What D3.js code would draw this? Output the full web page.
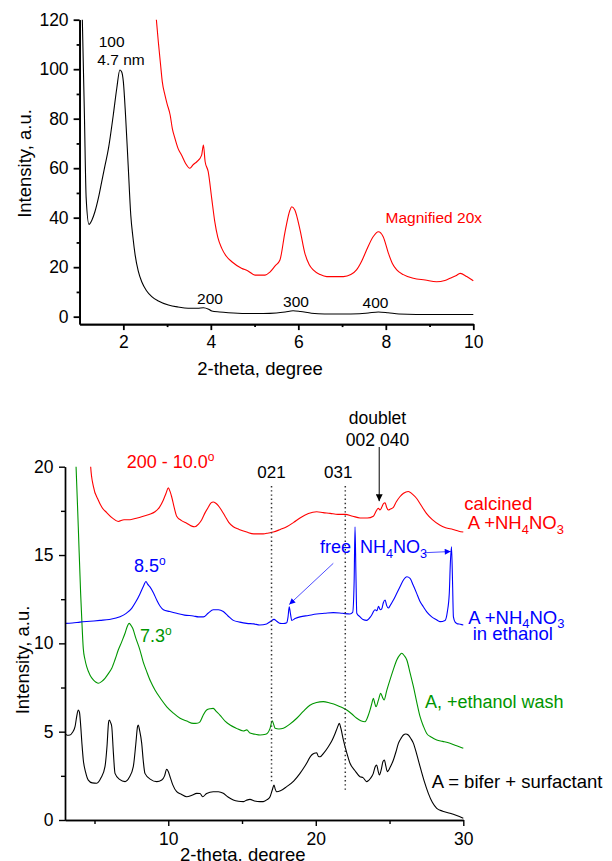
<!DOCTYPE html>
<html>
<head>
<meta charset="utf-8">
<script src="https://cdn.jsdelivr.net/npm/d3@7/dist/d3.min.js"></script>
<style>
  html, body { margin: 0; padding: 0; background: #fff; }
  svg { display: block; font-family: "Liberation Sans", Arial, sans-serif; }
</style>
</head>
<body>
<svg id="chart" width="612" height="861"></svg>
<script>
// ---------- Upper panel: low-angle pattern (2-theta 1-10 deg) ----------
const lowTheta = [1.06,1.11,1.15,1.215,1.28,1.35,1.43,1.505,1.58,1.66,1.77,1.85,1.92,1.96,2.0,2.05,2.11,2.17,2.22,2.27,2.34,2.42,2.53,2.65,2.8,3.03,3.25,3.48,3.7,3.83,3.95,4.02,4.2,4.4,4.8,5.2,5.5,5.7,5.88,6.05,6.3,6.6,7.0,7.4,7.6,7.83,8.05,8.3,8.7,9.2,9.6,10];
const lowIntensity = [122,81.5,48,37.3,39,42.4,48,54.5,61,68,81.5,92.3,99.7,99,95,81.5,61.3,41,32,24.9,18.5,14.1,10.5,8.1,6.3,4.7,3.9,3.4,3.4,3.6,3.0,2.3,1.9,1.6,1.3,1.3,1.5,1.9,2.4,2.1,1.4,1.1,1.1,1.2,1.5,1.9,1.6,1.1,0.9,0.9,0.9,0.9];

// same pattern, magnified 20x
const magTheta = [2.74,2.8,2.85,2.89,2.95,3.0,3.07,3.12,3.18,3.25,3.33,3.42,3.52,3.6,3.68,3.79,3.83,3.87,3.94,4.02,4.09,4.16,4.25,4.35,4.48,4.7,4.85,5.01,5.24,5.35,5.47,5.58,5.69,5.81,5.85,5.92,6.04,6.15,6.25,6.34,6.5,6.65,7.03,7.2,7.33,7.45,7.56,7.71,7.83,7.94,8.06,8.15,8.25,8.4,8.63,8.9,9.16,9.35,9.47,9.6,9.7,9.85,10.0];
const magIntensity = [123,111,102,95,89.6,86,81.5,76,72,68,65.3,62,60,61.5,62.6,65.3,69.4,62.6,58.6,47.8,38.4,32,27.6,24.5,22.2,19.6,18.5,16.8,16.8,18.0,20.5,22.9,33.7,43.1,44.4,43.1,35,25.6,21,18.9,17,16.2,16.2,17,18.9,22.5,26.9,32.3,34.3,32.3,25.6,21.5,18.9,17,15.5,14.8,14.1,14.6,15.5,16.5,17.5,16.2,14.5];

const lowXTicks = [2, 4, 6, 8, 10];
const lowXMinor = [3, 5, 7, 9];
const lowYTicks = [0, 20, 40, 60, 80, 100, 120];
const lowYMinor = [10, 30, 50, 70, 90, 110];

// ---------- Lower panel: wide-angle patterns (2-theta 3-30 deg) ----------
const calcTheta = [4.7,4.74,4.92,5.26,5.5,5.83,6.2,6.61,7.0,7.41,7.9,8.31,8.7,9.1,9.4,9.66,9.85,10.0,10.12,10.23,10.4,10.57,10.9,11.25,11.55,11.81,12.05,12.27,12.5,12.71,12.9,13.05,13.2,13.39,13.6,13.85,14.1,14.41,14.8,15.32,15.8,16.44,16.8,17.12,17.6,18.03,18.5,18.93,19.5,20.06,20.5,20.97,21.5,21.98,22.5,23.0,23.5,23.9,24.1,24.24,24.35,24.47,24.58,24.7,24.8,24.92,25.05,25.26,25.45,25.7,25.95,26.27,26.55,26.84,27.15,27.5,27.9,28.4,28.8,29.3,29.7,30.0];
const calcIntensity = [20.6,20.0,18.9,18.1,17.7,17.4,17.1,16.9,17.0,17.0,17.1,17.2,17.3,17.45,17.7,18.1,18.5,18.8,18.6,18.3,17.7,17.2,16.95,16.8,16.65,16.6,16.75,17.0,17.4,17.7,17.95,18.0,17.95,17.8,17.55,17.2,16.85,16.6,16.45,16.3,16.2,16.2,16.25,16.3,16.45,16.6,16.85,17.1,17.35,17.45,17.4,17.36,17.3,17.3,17.2,17.1,17.1,17.2,17.5,17.65,17.55,17.7,17.9,17.96,17.7,17.55,17.6,17.7,18.0,18.3,18.5,18.6,18.45,18.2,17.8,17.36,17.0,16.7,16.55,16.45,16.35,16.3];

const ethTheta = [3.0,3.5,4.02,4.7,5.37,6.0,6.73,7.15,7.52,7.8,8.08,8.3,8.49,8.6,8.76,9.0,9.22,9.45,9.67,10.1,10.57,11.1,11.7,12.05,12.38,12.7,13.05,13.4,13.73,14.05,14.41,14.85,15.32,15.8,16.2,16.67,16.95,17.17,17.35,17.58,17.8,18.03,18.12,18.2,18.28,18.37,18.6,18.93,19.5,20.06,20.6,21.19,21.8,22.32,22.5,22.6,22.66,22.72,22.78,23.0,23.2,23.45,23.75,24.02,24.15,24.25,24.37,24.47,24.58,24.7,24.8,24.92,25.05,25.26,25.5,25.71,25.95,26.17,26.39,26.6,26.84,27.05,27.29,27.55,27.86,28.15,28.42,28.76,28.92,29.05,29.12,29.2,29.27,29.33,29.45,29.55,29.8,30.0];
const ethIntensity = [11.13,11.15,11.2,11.25,11.3,11.35,11.5,11.7,11.98,12.35,12.8,13.2,13.5,13.35,13.2,12.85,12.45,12.1,11.9,11.8,11.7,11.6,11.55,11.5,11.5,11.7,11.9,11.9,11.8,11.55,11.3,11.2,11.13,11.1,11.04,11.1,11.25,11.36,11.25,11.13,11.12,11.17,11.5,12.07,11.7,11.3,11.4,11.5,11.58,11.66,11.7,11.74,11.7,11.66,11.75,13.5,16.6,14.0,11.7,11.5,11.35,11.3,11.55,11.9,11.85,12.1,11.9,11.95,12.3,12.45,12.15,12.0,12.15,12.45,12.85,13.2,13.6,13.77,13.68,13.3,12.83,12.4,12.07,11.75,11.5,11.35,11.23,11.3,11.8,12.83,14.5,15.47,13.5,11.5,11.2,11.13,11.08,11.04];

const washTheta = [3.72,3.75,3.9,4.06,4.13,4.24,4.35,4.47,4.7,4.92,5.1,5.26,5.5,5.71,5.95,6.17,6.4,6.61,6.85,7.07,7.22,7.34,7.45,7.59,7.8,8.08,8.3,8.54,8.8,9.1,9.5,9.9,10.35,10.8,11.25,11.7,11.95,12.15,12.35,12.6,12.85,13.05,13.25,13.5,13.85,14.19,14.6,15.09,15.32,15.54,15.9,16.22,16.6,16.9,17.05,17.15,17.24,17.5,17.8,18.2,18.71,19.15,19.6,20.05,20.51,20.95,21.42,21.75,22.1,22.45,22.78,23.05,23.34,23.55,23.68,23.8,23.9,24.0,24.08,24.25,24.4,24.52,24.63,24.8,25.03,25.25,25.49,25.7,25.83,26.0,26.17,26.4,26.62,26.85,27.07,27.3,27.52,27.85,28.2,28.6,29.1,29.55,30.0];
const washIntensity = [20.6,20,16.6,12.83,11.5,9.7,9.1,8.68,8.2,7.93,7.8,7.74,7.85,8.02,8.3,8.59,9.1,9.62,10.1,10.57,10.95,11.13,11.05,10.85,10.3,9.62,8.95,8.4,7.85,7.36,6.85,6.41,6.05,5.76,5.6,5.47,5.48,5.56,5.9,6.23,6.3,6.32,6.15,5.94,5.6,5.38,5.2,5.04,5.1,4.92,4.85,4.81,4.85,5.19,5.62,5.4,5.19,5.15,5.19,5.4,5.76,6.15,6.5,6.65,6.7,6.62,6.5,6.38,6.23,6.0,5.76,5.62,5.56,5.9,6.23,6.6,6.89,6.6,6.41,6.8,7.17,6.95,6.79,7.3,7.93,8.5,9.06,9.35,9.44,9.3,9.06,8.3,7.55,6.65,5.85,5.3,4.9,4.68,4.53,4.45,4.34,4.2,4.06];

const asTheta = [3.0,3.15,3.34,3.5,3.68,3.8,3.9,3.98,4.05,4.15,4.24,4.4,4.58,4.85,5.15,5.45,5.71,5.85,5.95,6.0,6.1,6.17,6.28,6.39,6.7,7.07,7.35,7.63,7.8,7.92,7.97,8.05,8.2,8.3,8.42,8.8,9.22,9.56,9.75,9.89,10.0,10.12,10.3,10.57,10.9,11.25,11.6,11.93,12.15,12.33,12.6,13.05,13.4,13.73,14.05,14.41,14.75,15.09,15.3,15.54,15.85,16.22,16.44,16.7,16.9,17.05,17.17,17.25,17.35,17.6,18.03,18.5,18.93,19.3,19.72,19.9,20.06,20.18,20.29,20.55,20.85,21.1,21.31,21.45,21.6,21.7,21.87,22.1,22.32,22.65,23.0,23.2,23.45,23.7,23.9,24.02,24.13,24.22,24.31,24.45,24.55,24.65,24.75,24.85,25.05,25.26,25.45,25.6,25.8,25.94,26.1,26.27,26.45,26.62,26.85,27.07,27.35,27.63,27.9,28.2,28.6,29.1,29.55,30.0];
const asIntensity = [4.9,4.8,4.81,4.95,5.28,5.9,6.23,6.1,5.5,4.3,3.4,2.7,2.26,2.1,2.08,2.4,3.02,4.2,5.5,5.66,5.5,5.28,3.8,2.64,2.3,2.17,2.4,3.02,4.3,5.3,5.38,5.1,4.34,3.4,2.64,2.3,2.17,2.26,2.5,2.87,2.75,2.45,2.0,1.6,1.45,1.32,1.4,1.51,1.5,1.32,1.5,1.6,1.6,1.51,1.3,1.13,1.06,1.04,1.12,1.17,1.08,1.04,1.04,1.15,1.32,1.7,1.98,1.75,1.6,1.65,1.89,2.2,2.64,3.1,3.68,3.78,3.81,3.6,3.58,3.8,4.15,4.5,4.9,5.2,5.47,5.2,4.53,3.8,3.21,2.8,2.45,2.4,2.17,2.35,2.64,3.0,3.11,2.8,2.55,2.9,3.3,3.4,3.05,2.74,3.0,3.4,3.9,4.34,4.65,4.81,4.87,4.81,4.6,4.34,3.7,3.02,2.2,1.51,1.0,0.66,0.5,0.38,0.25,0.1];

const wideXTicks = [10, 20, 30];
const wideXMinor = [5, 15, 25];
const wideYTicks = [0, 5, 10, 15, 20];
const wideYMinor = [2.5, 7.5, 12.5, 17.5];

// reflection markers (dotted guides) and the doublet arrow position
const guideTheta = [17.0, 22.0];
const guideLabels = ["021", "031"];
const guideEndIntensity = [2.2, 1.7];
const doubletTheta = 24.3;

const RED = "#ff0000", BLUE = "#0000ff", GREEN = "#009600", BLACK = "#000000";
const FONT = "'Liberation Sans', Arial, sans-serif";

const svg = d3.select("#chart");
svg.append("rect").attr("width", 612).attr("height", 861).attr("fill", "#fff");

const defs = svg.append("defs");
function arrowMarker(id, color, w, h) {
  defs.append("marker")
    .attr("id", id).attr("viewBox", "0 0 10 10")
    .attr("refX", 10).attr("refY", 5)
    .attr("markerUnits", "userSpaceOnUse")
    .attr("markerWidth", w).attr("markerHeight", h)
    .attr("orient", "auto")
    .append("path").attr("d", "M0,0 L10,5 L0,10 Z").attr("fill", color);
}
arrowMarker("arrBlack", BLACK, 9, 7);
arrowMarker("arrBlue", BLUE, 8, 6);

function zip(xs, ys) { return xs.map((x, i) => [x, ys[i]]); }

function styleAxis(g, size, width) {
  g.attr("font-family", FONT).attr("font-size", size);
  g.selectAll(".domain").attr("stroke", "#000").attr("stroke-width", width);
  g.selectAll(".tick line").attr("stroke", "#000").attr("stroke-width", width);
  g.selectAll(".tick text").attr("fill", "#000");
}

// ================= Upper panel =================
const xTop = d3.scaleLinear().domain([1, 10]).range([79.6, 473.3]);
const yTop = d3.scaleLinear().domain([-3, 120]).range([324.1, 19.7]);

const upper = svg.append("g");
upper.append("clipPath").attr("id", "clipTop")
  .append("rect").attr("x", xTop(1)).attr("y", yTop(120))
  .attr("width", xTop(10) - xTop(1) + 2).attr("height", yTop(-3) - yTop(120));

const lineTop = d3.line().x(d => xTop(d[0])).y(d => yTop(d[1])).curve(d3.curveMonotoneX);

upper.append("path").datum(zip(magTheta, magIntensity))
  .attr("d", lineTop).attr("fill", "none").attr("stroke", RED).attr("stroke-width", 1.1)
  .attr("clip-path", "url(#clipTop)");
upper.append("path").datum(zip(lowTheta, lowIntensity))
  .attr("d", lineTop).attr("fill", "none").attr("stroke", BLACK).attr("stroke-width", 1.1)
  .attr("clip-path", "url(#clipTop)");

const topAxisW = 1.8;
upper.append("g").attr("transform", `translate(0,${yTop(-3)})`)
  .call(d3.axisBottom(xTop).tickValues(lowXMinor).tickSize(3).tickSizeOuter(0).tickFormat(""))
  .call(g => styleAxis(g, 17.5, topAxisW));
upper.append("g").attr("transform", `translate(0,${yTop(-3)})`)
  .call(d3.axisBottom(xTop).tickValues(lowXTicks).tickSize(6).tickPadding(5).tickSizeOuter(0))
  .call(g => styleAxis(g, 17.5, topAxisW));
upper.append("g").attr("transform", `translate(${xTop(1)},0)`)
  .call(d3.axisLeft(yTop).tickValues(lowYMinor).tickSize(3).tickSizeOuter(0).tickFormat(""))
  .call(g => styleAxis(g, 17.5, topAxisW));
upper.append("g").attr("transform", `translate(${xTop(1)},0)`)
  .call(d3.axisLeft(yTop).tickValues(lowYTicks).tickSize(6).tickPadding(5).tickSizeOuter(0))
  .call(g => styleAxis(g, 17.5, topAxisW));

upper.append("text").attr("x", 260).attr("y", 375).attr("text-anchor", "middle")
  .attr("font-size", 18.5).text("2-theta, degree");
upper.append("text").attr("transform", "translate(31,163.5) rotate(-90)").attr("text-anchor", "middle")
  .attr("font-size", 18.5).text("Intensity, a.u.");

const topNotes = [
  { t: "100", x: 111.7, y: 46.5 },
  { t: "4.7 nm", x: 121, y: 65 },
  { t: "200", x: 210, y: 304 },
  { t: "300", x: 296, y: 306.5 },
  { t: "400", x: 375.5, y: 308 }
];
upper.selectAll("text.note").data(topNotes).join("text").attr("class", "note")
  .attr("x", d => d.x).attr("y", d => d.y).attr("text-anchor", "middle")
  .attr("font-size", 15.5).text(d => d.t);
upper.append("text").attr("x", 385.5).attr("y", 222.5).attr("fill", RED)
  .attr("font-size", 15.5).text("Magnified 20x");

// ================= Lower panel =================
const xBot = d3.scaleLinear().domain([3, 30]).range([65, 463.3]);
const yBot = d3.scaleLinear().domain([0, 20]).range([820, 466.7]);

const lower = svg.append("g");
lower.append("clipPath").attr("id", "clipBot")
  .append("rect").attr("x", xBot(3)).attr("y", yBot(20))
  .attr("width", xBot(30) - xBot(3) + 2).attr("height", yBot(0) - yBot(20));

const lineBot = d3.line().x(d => xBot(d[0])).y(d => yBot(d[1])).curve(d3.curveMonotoneX);

const series = [
  { th: asTheta, iv: asIntensity, c: BLACK },
  { th: washTheta, iv: washIntensity, c: GREEN },
  { th: ethTheta, iv: ethIntensity, c: BLUE },
  { th: calcTheta, iv: calcIntensity, c: RED }
];
series.forEach(s => {
  lower.append("path").datum(zip(s.th, s.iv))
    .attr("d", lineBot).attr("fill", "none").attr("stroke", s.c).attr("stroke-width", 1.1)
    .attr("clip-path", "url(#clipBot)");
});

// dotted reflection guides
guideTheta.forEach((th, i) => {
  lower.append("line")
    .attr("x1", xBot(th)).attr("x2", xBot(th))
    .attr("y1", 486).attr("y2", yBot(guideEndIntensity[i]))
    .attr("stroke", "#333").attr("stroke-width", 1.5).attr("stroke-dasharray", "1.4,2.8");
  lower.append("text").attr("x", xBot(th) - (i === 1 ? 7 : 0)).attr("y", 478)
    .attr("text-anchor", "middle").attr("font-size", 17).text(guideLabels[i]);
});

const botAxisW = 1.4;
lower.append("g").attr("transform", `translate(0,${yBot(0)})`)
  .call(d3.axisBottom(xBot).tickValues(wideXMinor).tickSize(4).tickSizeOuter(0).tickFormat(""))
  .call(g => styleAxis(g, 17.5, botAxisW));
lower.append("g").attr("transform", `translate(0,${yBot(0)})`)
  .call(d3.axisBottom(xBot).tickValues(wideXTicks).tickSize(6).tickPadding(7).tickSizeOuter(0))
  .call(g => styleAxis(g, 17.5, botAxisW));
lower.append("g").attr("transform", `translate(${xBot(3)},0)`)
  .call(d3.axisLeft(yBot).tickValues(wideYMinor).tickSize(4).tickSizeOuter(0).tickFormat(""))
  .call(g => styleAxis(g, 17.5, botAxisW));
lower.append("g").attr("transform", `translate(${xBot(3)},0)`)
  .call(d3.axisLeft(yBot).tickValues(wideYTicks).tickSize(6).tickPadding(5.5).tickSizeOuter(0))
  .call(g => styleAxis(g, 17.5, botAxisW));

lower.append("text").attr("x", 180).attr("y", 861).attr("font-size", 18.5).text("2-theta, degree");
lower.append("text").attr("transform", "translate(29,660) rotate(-90)").attr("text-anchor", "middle")
  .attr("font-size", 18.5).text("Intensity, a.u.");

// degree-style labels with a raised "o"
function degLabel(x, y, main, color) {
  const t = lower.append("text").attr("x", x).attr("y", y).attr("fill", color).attr("font-size", 18);
  t.append("tspan").text(main);
  t.append("tspan").attr("dy", -7).attr("font-size", 12).text("o");
}
degLabel(126.7, 468, "200 - 10.0", RED);
degLabel(134, 571.5, "8.5", BLUE);
degLabel(140, 641.5, "7.3", GREEN);

// chemical formula label with subscripts
function formula(x, y, prefix, color, size) {
  const t = lower.append("text").attr("x", x).attr("y", y).attr("fill", color).attr("font-size", size);
  t.append("tspan").text(prefix + "NH");
  t.append("tspan").attr("dy", 4.5).attr("font-size", size * 0.7).text("4");
  t.append("tspan").attr("dy", -4.5).text("NO");
  t.append("tspan").attr("dy", 4.5).attr("font-size", size * 0.7).text("3");
  return t;
}

lower.append("text").attr("x", 377.5).attr("y", 424).attr("text-anchor", "middle")
  .attr("font-size", 17.5).text("doublet");
lower.append("text").attr("x", 377.5).attr("y", 445.5).attr("text-anchor", "middle")
  .attr("font-size", 17.5).text("002 040");
lower.append("line").attr("x1", xBot(doubletTheta)).attr("x2", xBot(doubletTheta))
  .attr("y1", 447).attr("y2", yBot(18.05))
  .attr("stroke", BLACK).attr("stroke-width", 1).attr("marker-end", "url(#arrBlack)");

lower.append("text").attr("x", 464.3).attr("y", 510).attr("fill", RED).attr("font-size", 18.5).text("calcined");
formula(467.7, 529.3, "A +", RED, 18.5);

lower.append("text").attr("x", 320).attr("y", 553.3).attr("fill", BLUE).attr("font-size", 18).text("free");
formula(360, 553.3, "", BLUE, 18);
lower.append("line").attr("x1", 333.3).attr("y1", 563.3)
  .attr("x2", xBot(18.2)).attr("y2", yBot(12.2))
  .attr("stroke", BLUE).attr("stroke-width", 0.7).attr("marker-end", "url(#arrBlue)");
lower.append("line").attr("x1", 425).attr("y1", 552.7)
  .attr("x2", xBot(29.15)).attr("y2", yBot(15.2))
  .attr("stroke", BLUE).attr("stroke-width", 0.7).attr("marker-end", "url(#arrBlue)");

formula(468.3, 623.5, "A +", BLUE, 18.5);
lower.append("text").attr("x", 472.7).attr("y", 640).attr("fill", BLUE).attr("font-size", 18.5).text("in ethanol");

lower.append("text").attr("x", 425).attr("y", 708.3).attr("fill", GREEN).attr("font-size", 18).text("A, +ethanol wash");
lower.append("text").attr("x", 431.7).attr("y", 788.3).attr("fill", BLACK).attr("font-size", 18.5).text("A = bifer + surfactant");
</script>
</body>
</html>
